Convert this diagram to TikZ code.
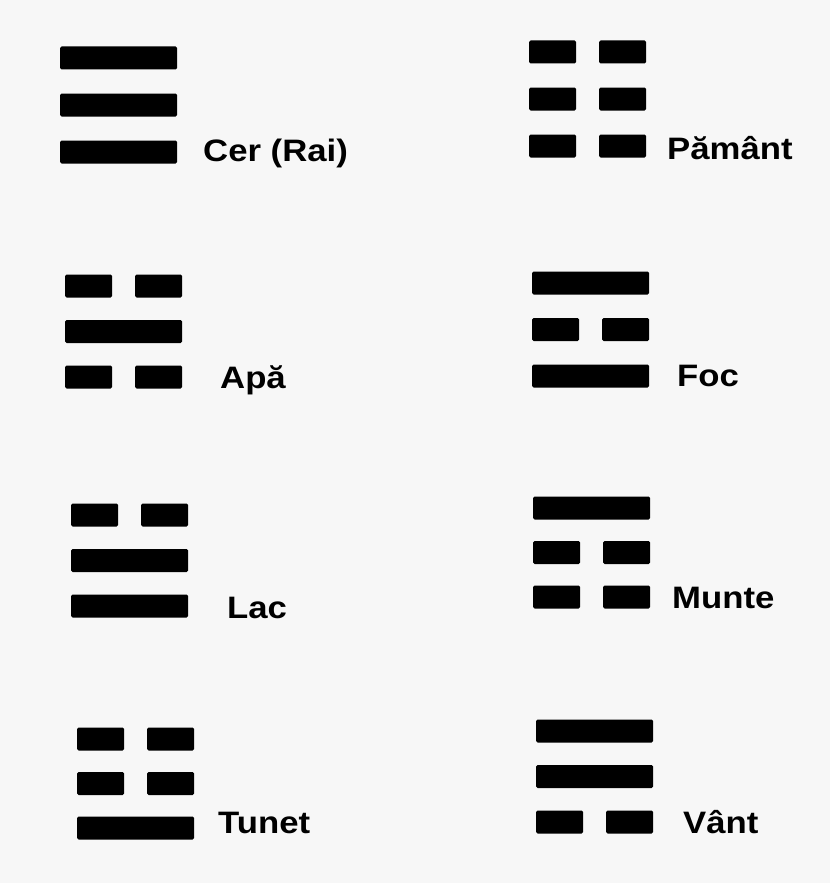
\documentclass[tikz,border=0pt]{standalone}
\usepackage{fontspec}
\setmainfont{Liberation Sans}
\newfontfamily\trifont[FakeStretch=1.12]{Liberation Sans}

\tikzset{
  bar/.style={fill=black, rounded corners=1.5pt, inner sep=0pt,
    minimum height=23pt, anchor=west},
  yang/.style={bar, minimum width=117pt},
  yin/.style={bar, minimum width=47pt},
  trilabel/.style={anchor=base west, inner sep=0pt,
    font=\trifont\bfseries\fontsize{31}{36}\selectfont},
}

\begin{document}
\begin{tikzpicture}[x=1pt, y=-1pt]
  % Page and background
  \useasboundingbox (0,0) rectangle (830,883);
  \fill[white!97!black] (0,0) rectangle (830,883);

  % Trigrams: name / left x / top y / line spacing / lines top to bottom / label / label x / label y
  \foreach \name/\x/\y/\d/\a/\b/\c/\txt/\lx/\ly in {
      cer/60/58/47/1/1/1/{Cer (Rai)}/203/161,
      pamant/529/52/47/0/0/0/{Pământ}/667/159,
      apa/65/286/45.5/0/1/0/{Apă}/220/388,
      foc/532/283/46.5/1/0/1/{Foc}/677/386,
      lac/71/515/45.5/0/1/1/{Lac}/227/618,
      munte/533/508/44.5/1/0/0/{Munte}/672/608,
      tunet/77/739/44.5/0/0/1/{Tunet}/218/833,
      vant/536/731/45.5/1/1/0/{Vânt}/683/833} {
    % Three lines: solid (yang) or broken (yin)
    \foreach \l/\t in {1/\a,2/\b,3/\c} {
      \ifnum\t=1
        \node[yang] (\name-\l) at (\x, \y + \l*\d - \d) {};
      \else
        \node[yin] (\name-\l a) at (\x, \y + \l*\d - \d) {};
        \node[yin] (\name-\l b) at (\x + 70, \y + \l*\d - \d) {};
      \fi
    }
    % Name of the trigram
    \node[trilabel] (\name-label) at (\lx, \ly) {\txt};
  }
\end{tikzpicture}
\end{document}
